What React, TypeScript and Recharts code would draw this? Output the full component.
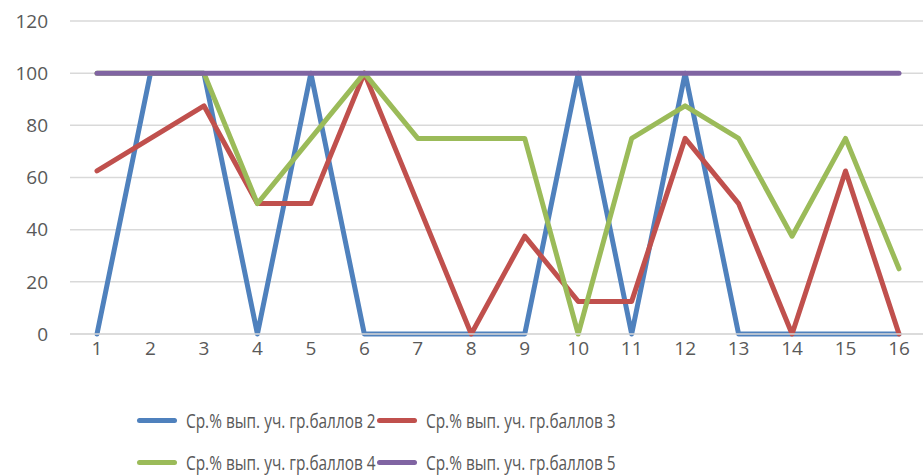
import { LineChart, Line, XAxis, YAxis, CartesianGrid, Legend } from "recharts";

const categories = ["1", "2", "3", "4", "5", "6", "7", "8", "9", "10", "11", "12", "13", "14", "15", "16"];
const score2 = [0, 100, 100, 0, 100, 0, 0, 0, 0, 100, 0, 100, 0, 0, 0, 0];
const score3 = [62.5, 75, 87.5, 50, 50, 100, 50, 0, 37.5, 12.5, 12.5, 75, 50, 0, 62.5, 0];
const score4 = [100, 100, 100, 50, 75, 100, 75, 75, 75, 0, 75, 87.5, 75, 37.5, 75, 25];
const score5 = [100, 100, 100, 100, 100, 100, 100, 100, 100, 100, 100, 100, 100, 100, 100, 100];
const yTicks = [0, 20, 40, 60, 80, 100, 120];

const series = [
  { key: "s2", name: "Ср.% вып. уч. гр.баллов 2", color: "#4f81bd" },
  { key: "s3", name: "Ср.% вып. уч. гр.баллов 3", color: "#c0504d" },
  { key: "s4", name: "Ср.% вып. уч. гр.баллов 4", color: "#9bbb59" },
  { key: "s5", name: "Ср.% вып. уч. гр.баллов 5", color: "#8064a2" },
];

const data = categories.map((c, i) => ({
  cat: c,
  s2: score2[i],
  s3: score3[i],
  s4: score4[i],
  s5: score5[i],
}));

const textColor = "#595959";

const LegendBox = () => (
  <div style={{ height: 110, position: "relative", fontFamily: "'Open Sans', sans-serif", fontSize: 20, color: textColor }}>
    {series.map((s, i) => (
      <div
        key={s.key}
        style={{
          position: "absolute",
          left: i % 2 === 0 ? 137 : 377,
          top: i < 2 ? 44 : 86,
          height: 24,
          display: "flex",
          alignItems: "center",
          whiteSpace: "nowrap",
        }}
      >
        <span style={{ display: "inline-block", width: 40, height: 5, borderRadius: 3, background: s.color, marginRight: 9 }} />
        <span style={{ display: "inline-block", transform: "scaleX(0.77)", transformOrigin: "left center" }}>{s.name}</span>
      </div>
    ))}
  </div>
);

export default function App() {
  return (
    <div style={{ position: "absolute", left: 0, top: 0, background: "#fff" }}>
      <LineChart width={923} height={476} data={data} margin={{ top: 21, right: 0, left: 0, bottom: 2 }}>
        <CartesianGrid vertical={false} stroke="#d9d9d9" strokeWidth={1.5} />
        <XAxis
          dataKey="cat"
          padding={{ left: 27, right: 24 }}
          axisLine={{ stroke: "#d9d9d9", strokeWidth: 1.5 }}
          tickLine={false}
          height={30}
          tick={{ fill: textColor, fontSize: 19, fontFamily: "'Open Sans', sans-serif" }}
        />
        <YAxis
          domain={[0, 120]}
          ticks={yTicks}
          width={70}
          axisLine={false}
          tickLine={false}
          tickMargin={16}
          tick={{ fill: textColor, fontSize: 19, fontFamily: "'Open Sans', sans-serif" }}
        />
        <Legend verticalAlign="bottom" content={() => <LegendBox />} />
        {series.map((s) => (
          <Line
            key={s.key}
            type="linear"
            dataKey={s.key}
            name={s.name}
            stroke={s.color}
            strokeWidth={5}
            strokeLinecap="round"
            strokeLinejoin="round"
            dot={false}
            activeDot={false}
            isAnimationActive={false}
          />
        ))}
      </LineChart>
    </div>
  );
}
